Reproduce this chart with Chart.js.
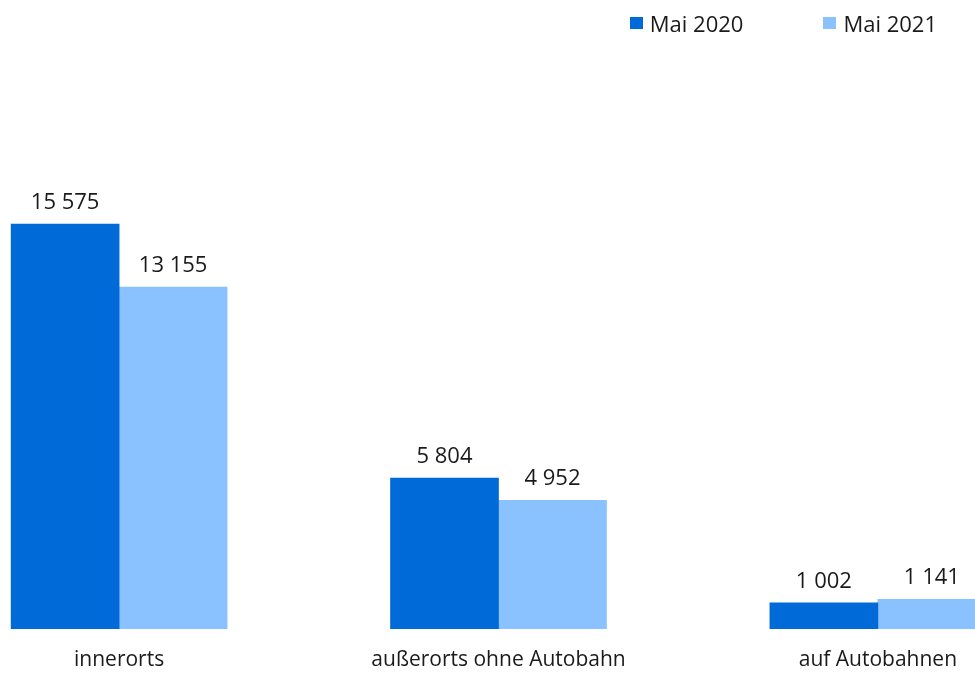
<!DOCTYPE html>
<html lang="de">
<head>
<meta charset="utf-8">
<title>Verkehrsunfälle Mai 2020 / Mai 2021</title>
<script src="https://cdn.jsdelivr.net/npm/chart.js@4/dist/chart.umd.min.js"></script>
<style>
  html, body { margin: 0; padding: 0; background: #fff; }
  #wrap { position: relative; width: 975px; height: 673px; overflow: hidden; }
  #legend {
    position: absolute; top: 8px; right: 38px;
    display: flex; gap: 80px;
    font: 22px "Open Sans", sans-serif; color: #1a1a1a;
  }
  #legend span.item { display: flex; align-items: center; }
  #legend span.box { display: inline-block; width: 13px; height: 12px; margin-right: 7px; }
</style>
</head>
<body>
<div id="wrap">
  <canvas id="chart" width="975" height="673"></canvas>
  <div id="legend"></div>
</div>
<script>
// -----------------------------------------------------------
// DATA
// -----------------------------------------------------------

const categories = ["innerorts", "außerorts ohne Autobahn", "auf Autobahnen"];
const seriesNames = ["Mai 2020", "Mai 2021"];
const mai2020 = [15575, 5804, 1002];
const mai2021 = [13155, 4952, 1141];

const colors = ["#006BD8", "#89C2FF"];
const FONT = "'Open Sans', sans-serif";

function fmt(n) {
  return String(n).replace(/\B(?=(\d{3})+(?!\d))/g, " ");
}

function toPoints(values) {
  return values.map((v, i) => ({ x: i, y: v }));
}

// value labels above each bar
const valueLabels = {
  id: "valueLabels",
  afterDatasetsDraw(chart) {
    const ctx = chart.ctx;
    ctx.save();
    ctx.font = "22px " + FONT;
    ctx.fillStyle = "#1a1a1a";
    ctx.textAlign = "center";
    ctx.textBaseline = "alphabetic";
    chart.data.datasets.forEach((ds, di) => {
      chart.getDatasetMeta(di).data.forEach((bar, i) => {
        ctx.fillText(fmt(ds.data[i].y), bar.x, bar.y - 15);
      });
    });
    ctx.restore();
  }
};

const chart = new Chart(document.getElementById("chart"), {
  type: "bar",
  data: {
    datasets: [
      { label: seriesNames[0], data: toPoints(mai2020), backgroundColor: colors[0], barThickness: 108 },
      { label: seriesNames[1], data: toPoints(mai2021), backgroundColor: colors[1], barThickness: 108 }
    ]
  },
  options: {
    responsive: false,
    animation: false,
    layout: { padding: { top: 57, bottom: 0, left: 0, right: 0 } },
    plugins: {
      legend: { display: false },
      tooltip: { enabled: false }
    },
    scales: {
      x: {
        type: "linear",
        offset: false,
        min: -0.314,
        max: 2.256,
        grid: { display: false, drawTicks: false, offset: false },
        border: { display: false },
        afterBuildTicks: s => { s.ticks = categories.map((c, i) => ({ value: i })); },
        afterFit: s => { s.paddingLeft = 0; s.paddingRight = 0; s.height = 44; },
        ticks: {
          autoSkip: false,
          maxRotation: 0,
          padding: 18,
          color: "#1a1a1a",
          font: { family: FONT, size: 21, lineHeight: 1.2 },
          callback: v => categories[v]
        }
      },
      y: {
        display: false,
        min: 0,
        max: 22000
      }
    }
  },
  plugins: [valueLabels]
});

// legend
const legendEl = document.getElementById("legend");
chart.data.datasets.forEach(ds => {
  const item = document.createElement("span");
  item.className = "item";
  const box = document.createElement("span");
  box.className = "box";
  box.style.background = ds.backgroundColor;
  item.appendChild(box);
  item.appendChild(document.createTextNode(ds.label));
  legendEl.appendChild(item);
});
</script>
</body>
</html>
